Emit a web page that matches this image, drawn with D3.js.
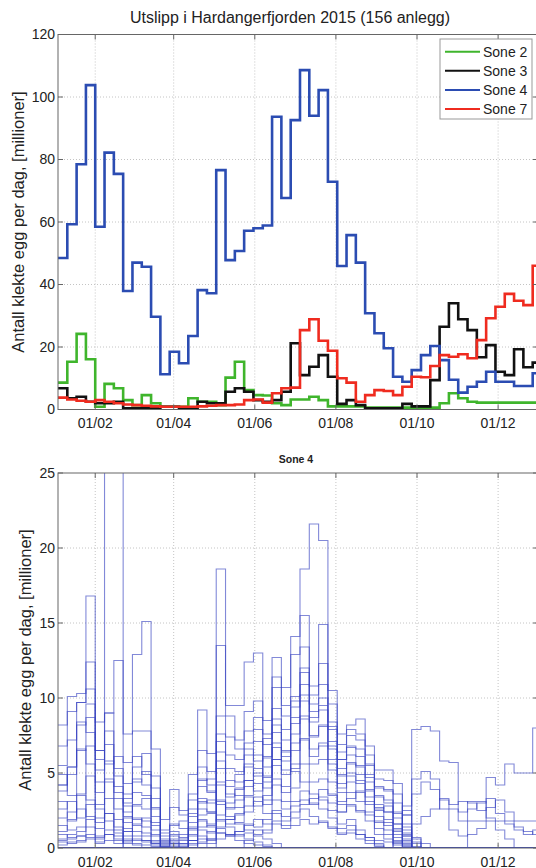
<!DOCTYPE html>
<html lang="no">
<head>
<meta charset="utf-8">
<title>Utslipp i Hardangerfjorden 2015</title>
<script src="https://cdn.jsdelivr.net/npm/d3@7"></script>
<style>
  html, body { margin: 0; padding: 0; background: #fff; }
  svg { display: block; }
  text { font-family: "Liberation Sans", Arial, Helvetica, sans-serif; fill: #222; }
</style>
</head>
<body>
<svg id="chart" width="536" height="868"></svg>
<script>
// Weekly emission, million hatched eggs per day. Week 0 starts Sunday 4 January 2015.
const sone2 = [8.6, 15.3, 24.2, 16.1, 0.9, 8.2, 6.8, 3.0, 1.4, 4.6,
               2.0, 0.9, 0.9, 0.9, 3.6, 2.5, 2.5, 1.4, 10.2, 15.3,
               6.2, 4.6, 4.5, 2.0, 1.4, 3.2, 3.2, 4.1, 3.0, 1.0,
               1.0, 1.0, 1.0, 0.6, 0.6, 0.6, 0.6, 0.6, 0.6, 0.6,
               0.6, 2.0, 5.2, 3.6, 2.5, 2.2, 2.2, 2.2, 2.2, 2.2, 2.2, 2.2];
const sone3 = [6.8, 3.6, 4.1, 2.5, 2.0, 2.0, 2.5, 0.4, 0.4, 0.4,
               0.4, 0.9, 0.9, 0.4, 0.4, 2.5, 2.0, 2.0, 5.7, 6.8,
               5.7, 3.0, 2.5, 3.0, 5.7, 21.2, 11.0, 13.7, 17.4, 10.5,
               1.8, 3.0, 1.4, 0.4, 0.4, 0.4, 0.4, 1.8, 1.0, 1.0,
               9.4, 26.5, 34.0, 28.9, 25.4, 16.7, 20.6, 12.1, 11.0, 19.3, 13.5, 15.0];
const sone4 = [48.5, 59.3, 78.5, 103.8, 58.5, 82.2, 75.4, 37.9, 47.0, 45.7,
               29.7, 11.3, 18.5, 14.8, 23.5, 38.2, 37.2, 76.6, 47.8, 50.7,
               57.2, 58.0, 58.9, 93.7, 67.7, 92.6, 108.6, 94.0, 102.2, 72.9,
               45.9, 55.8, 47.0, 30.8, 24.4, 19.6, 10.5, 8.9, 12.6, 17.4,
               20.3, 15.8, 9.5, 5.4, 7.3, 8.9, 12.1, 8.9, 8.9, 7.5, 7.5, 11.6];
const sone7 = [3.8, 3.2, 2.8, 2.5, 3.0, 2.5, 2.0, 1.6, 1.4, 1.2,
               1.0, 0.9, 0.9, 0.9, 0.9, 1.0, 1.2, 1.4, 1.4, 1.6,
               3.0, 3.2, 2.2, 5.2, 6.8, 7.0, 25.4, 28.9, 22.0, 18.8,
               10.0, 8.6, 2.5, 4.6, 6.2, 5.9, 4.6, 7.3, 10.5, 10.3,
               13.9, 17.4, 16.9, 17.7, 16.4, 22.2, 29.2, 32.9, 37.0, 34.8, 33.4, 46.0];

const zoneNames  = ["Sone 2", "Sone 3", "Sone 4", "Sone 7"];
const zoneColors = ["#3fb52c", "#111111", "#2b4cb2", "#ef2b1f"];
const monthTicks = ["01/02", "01/04", "01/06", "01/08", "01/10", "01/12"];
const topYTicks    = [0, 20, 40, 60, 80, 100, 120];
const bottomYTicks = [0, 5, 10, 15, 20, 25];

// Individual farms in Sone 4, same weekly steps
const anlegg01 = [4.2, 5.4, 9.7, 16.8, 6.5, 30, 30, 2.1, 1.5, 0.8, 0.5, 0, 0,
                  0, 0, 0, 0, 0, 0, 0, 0, 0, 0, 0, 0, 0,
                  0, 0, 0, 0, 0, 0, 0, 0, 0, 0, 0, 0, 0,
                  0, 0, 0, 0, 0, 0, 0, 0, 0, 0, 0, 0, 0];
const anlegg02 = [8.2, 10.1, 10.3, 12.4, 8.4, 9.0, 12.5, 7.6, 12.9, 15.1, 6.6, 1.2, 3.9,
                  2.5, 4.9, 9.2, 6.3, 18.6, 9.5, 9.5, 12.4, 13.0, 8.5, 12.7, 10.7, 14.1,
                  18.6, 21.6, 20.5, 10.5, 7.6, 8.2, 8.6, 6.8, 5.2, 5.2, 4.3, 2.5, 0,
                  0, 0, 0, 0, 0, 0, 0, 0, 0, 0, 0, 0, 0];
const anlegg03 = [6.8, 9.1, 9.7, 10.6, 6.5, 5.6, 6.1, 5.7, 7.8, 7.8, 4.8, 0.8, 1.5,
                  1.8, 3.2, 6.5, 5.1, 13.5, 8.8, 7.2, 9.1, 9.8, 7.6, 11.4, 9.5, 12.9,
                  15.5, 10.8, 14.9, 8.4, 6.4, 7.5, 7.2, 5.6, 4.1, 3.8, 2.4, 1.2, 0,
                  0, 0, 0, 0, 0, 0, 0, 0, 0, 0, 0, 0, 0];
const anlegg04 = [4.9, 3.5, 8.2, 9.6, 5.2, 9.0, 4.8, 4.3, 6.1, 4.9, 3.3, 0.5, 1.1,
                  0.9, 2.6, 5.4, 4.2, 8.8, 7.4, 6.6, 7.8, 8.7, 6.9, 10.7, 8.8, 10.1,
                  13.4, 9.6, 12.3, 7.9, 5.9, 6.8, 6.1, 4.9, 3.5, 3.0, 1.6, 0.8, 0,
                  0, 0, 0, 0, 0, 0, 0, 0, 0, 0, 0, 0, 0];
const anlegg05 = [4.2, 5.4, 6.5, 8.7, 3.7, 6.9, 4.1, 3.6, 5.4, 6.3, 2.6, 0.4, 0.8,
                  0.6, 2.1, 4.1, 3.7, 7.6, 6.2, 5.9, 7.0, 7.9, 6.1, 9.3, 7.9, 9.4,
                  12.0, 9.1, 10.0, 7.1, 5.3, 6.2, 5.4, 4.4, 2.9, 2.4, 1.1, 0.5, 0,
                  0, 0, 0, 0, 0, 0, 0, 0, 0, 0, 0, 0, 0];
const anlegg06 = [3.1, 1.8, 3.6, 6.8, 2.9, 5.8, 3.3, 3.0, 4.6, 4.2, 2.1, 0.3, 0.6,
                  0.5, 1.7, 3.3, 3.0, 6.4, 5.3, 5.1, 6.2, 7.1, 5.4, 8.6, 7.2, 8.7,
                  10.9, 8.4, 9.2, 6.6, 4.8, 5.6, 4.9, 3.9, 2.5, 1.9, 0.9, 0.4, 0,
                  0, 0, 0, 0, 0, 0, 0, 0, 0, 0, 0, 0, 0];
const anlegg07 = [2.6, 3.1, 2.0, 4.8, 2.0, 4.6, 2.6, 2.4, 3.7, 3.5, 1.7, 0.2, 0.5,
                  0.3, 1.3, 2.6, 2.4, 5.3, 4.5, 4.4, 5.4, 6.2, 4.8, 7.7, 6.5, 7.6,
                  9.8, 7.5, 8.1, 5.9, 4.3, 5.0, 4.3, 3.4, 2.1, 1.5, 0.7, 0.3, 0,
                  0, 0, 0, 0, 0, 0, 0, 0, 0, 0, 0, 0, 0];
const anlegg08 = [1.5, 1.2, 1.4, 2.9, 1.3, 3.3, 1.9, 1.7, 2.8, 2.6, 1.2, 0.1, 0.3,
                  0.2, 0.9, 1.8, 1.6, 4.2, 3.6, 3.5, 4.5, 5.3, 4.0, 6.7, 5.8, 6.5,
                  8.6, 6.6, 7.0, 5.2, 3.7, 4.4, 3.7, 2.9, 1.7, 1.2, 0.5, 0.2, 0,
                  0, 0, 0, 0, 0, 0, 0, 0, 0, 0, 0, 0, 0];
const anlegg09 = [0.9, 0.7, 0.8, 1.9, 0.8, 2.3, 1.2, 1.1, 2.0, 1.8, 0.8, 0.1, 0.2,
                  0.1, 0.5, 1.2, 1.0, 3.1, 2.6, 2.7, 3.5, 4.3, 3.2, 5.5, 4.9, 5.3,
                  7.2, 5.6, 5.9, 4.4, 3.1, 3.7, 3.1, 2.4, 1.3, 0.9, 0.4, 0.1, 0,
                  0, 0, 0, 0, 0, 0, 0, 0, 0, 0, 0, 0, 0];
const anlegg10 = [0.4, 0.3, 0.4, 0.9, 0.4, 1.2, 0.6, 0.5, 1.1, 1.0, 0.4, 0, 0.1,
                  0, 0.2, 0.6, 0.5, 1.9, 1.6, 1.7, 2.4, 3.1, 2.3, 4.2, 3.7, 4.0,
                  5.6, 4.4, 4.6, 3.5, 2.4, 2.9, 2.4, 1.8, 0.9, 0.6, 0.2, 0, 0,
                  0, 0, 0, 0, 0, 0, 0, 0, 0, 0, 0, 0, 0];
const anlegg11 = [0, 0, 0, 0, 0, 0, 0, 0, 0, 0, 0, 0, 0,
                  0, 1.2, 4.5, 4.6, 7.1, 4.1, 4.9, 6.6, 5.8, 7.3, 8.2, 6.1, 9.8,
                  11.7, 10.2, 10.9, 9.6, 6.9, 7.9, 7.6, 6.2, 4.6, 4.5, 3.6, 2.2, 0.6,
                  0, 0, 0, 0, 0, 0, 0, 0, 0, 0, 0, 0, 0];
const anlegg12 = [0, 0, 0, 0, 0, 0, 0, 0, 0, 0, 0, 0, 0,
                  0, 0.8, 3.0, 3.2, 5.8, 3.4, 4.0, 5.6, 4.8, 6.0, 7.0, 5.2, 8.3,
                  10.2, 8.7, 9.5, 8.1, 5.9, 6.7, 6.6, 5.5, 4.0, 3.9, 3.0, 1.6, 0.4,
                  0, 0, 0, 0, 0, 0, 0, 0, 0, 0, 0, 0, 0];
const anlegg13 = [0, 0, 0, 0, 0, 0, 0, 0, 0, 0, 0, 0, 0,
                  0, 0.5, 2.2, 2.3, 4.4, 2.7, 3.2, 4.5, 3.8, 4.7, 5.9, 4.1, 7.0,
                  8.8, 7.4, 8.2, 6.8, 4.9, 5.7, 5.5, 4.7, 3.4, 3.2, 2.3, 1.0, 0,
                  0, 0, 0, 0, 0, 0, 0, 0, 0, 0, 0, 0, 0];
const anlegg14 = [0, 0, 0, 0, 0, 0, 0, 0, 0, 0, 0, 0, 0,
                  0, 0.3, 1.4, 1.5, 3.2, 1.9, 2.3, 3.4, 2.8, 3.5, 4.6, 3.1, 5.6,
                  7.3, 6.1, 6.8, 5.6, 4.0, 4.8, 4.5, 3.8, 2.7, 2.4, 1.6, 0.6, 0,
                  0, 0, 0, 0, 0, 0, 0, 0, 0, 0, 0, 0, 0];
const anlegg15 = [5.5, 7.2, 8.4, 7.7, 5.9, 7.8, 5.3, 2.8, 1.9, 1.4, 0.9, 0.6, 0.3,
                  0, 0, 0, 0, 0, 0, 0, 0, 0, 0, 0, 0, 0,
                  0, 0, 0, 0, 0, 0, 0, 0, 0, 0, 0, 0, 0,
                  0, 0, 0, 0, 0, 0, 0, 0, 0, 0, 0, 0, 0];
const anlegg16 = [3.8, 4.9, 6.6, 5.6, 4.4, 4.4, 3.7, 1.3, 0.8, 0.5, 0.3, 0, 0,
                  0, 0, 0, 0, 0, 0, 0, 0, 0, 0, 0, 0, 0,
                  0, 0, 0, 0, 0, 0, 0, 0, 0, 0, 0, 0, 0,
                  0, 0, 0, 0, 0, 0, 0, 0, 0, 0, 0, 0, 0];
const anlegg17 = [0, 0, 0, 0, 0, 0, 0, 0, 0, 0, 0, 0, 0,
                  0, 0, 0, 0, 0, 0, 0, 0, 0, 0, 0, 0, 0,
                  0, 0, 0, 0, 0, 0, 0, 0, 0, 0, 0, 0, 7.9,
                  8.1, 7.8, 5.8, 5.7, 2.4, 3.1, 3.1, 2.0, 1.2, 0.6, 0, 0, 0];
const anlegg18 = [0, 0, 0, 0, 0, 0, 0, 0, 0, 0, 0, 0, 0,
                  0, 0, 0, 0, 0, 0, 0, 0, 0, 0, 0, 0, 0,
                  0, 0, 0, 0, 0, 0, 0, 0, 0, 0, 1.2, 2.8, 4.6,
                  5.1, 4.6, 3.2, 2.6, 1.8, 1.8, 1.8, 1.8, 1.8, 1.8, 1.8, 1.8, 1.8];
const anlegg19 = [0, 0, 0, 0, 0, 0, 0, 0, 0, 0, 0, 0, 0,
                  0, 0, 0, 0, 0, 0, 0, 0, 0, 0, 0, 0, 0,
                  0, 0, 0, 0, 0, 0, 0, 0, 0, 0, 0, 0, 0,
                  0, 0, 0, 0, 0, 0.9, 1.3, 4.7, 4.2, 5.6, 5.0, 5.0, 8.0];
const anlegg20 = [0, 0, 0, 0, 0, 0, 0, 0, 0, 0, 0, 0, 0,
                  0, 0, 0, 0, 0, 0, 0, 0, 0, 0, 0, 0, 0,
                  0, 0, 0, 0, 0, 0, 0, 0, 0, 0, 0, 2.2, 3.6,
                  4.4, 3.9, 2.6, 1.2, 0.8, 2.6, 3.0, 3.3, 2.3, 1.6, 1.2, 0.9, 1.2];
const anlegg21 = [2.0, 2.4, 3.5, 3.2, 2.6, 1.8, 1.0, 0.6, 0.3, 0, 0, 0, 0,
                  0, 0, 0.4, 1.1, 2.2, 3.0, 3.9, 4.1, 5.0, 4.4, 5.9, 6.4, 5.1,
                  4.4, 3.6, 3.2, 2.5, 1.6, 1.9, 1.2, 0.7, 0.3, 0, 0, 0, 0,
                  0, 0, 0, 0, 0, 0, 0, 0, 0, 0, 0, 0, 0];
const anlegg22 = [1.1, 1.9, 2.6, 2.1, 1.7, 2.3, 1.4, 0.8, 0.5, 0.4, 0.2, 0, 0,
                  0, 0, 0, 0.3, 1.4, 1.9, 2.2, 2.8, 3.4, 2.9, 3.2, 2.6, 3.1,
                  3.8, 3.0, 2.6, 2.0, 1.3, 1.5, 0.9, 0.5, 0.2, 0, 0, 0, 0,
                  0, 0, 0, 0, 0, 0, 0, 0, 0, 0, 0, 0, 0];
const anlegg23 = [0.6, 0.9, 1.1, 1.4, 0.7, 0.9, 0.5, 0.3, 0.2, 0.2, 0.1, 0, 0,
                  0, 0, 0, 0, 0.6, 0.9, 1.1, 1.5, 1.9, 1.6, 2.3, 1.8, 2.0,
                  2.6, 2.1, 1.7, 1.4, 0.9, 1.0, 0.6, 0.3, 0.1, 0, 0, 0, 0,
                  0, 0, 0, 0, 0, 0, 0, 0, 0, 0, 0, 0, 0];
const anlegg24 = [0, 0, 0, 0, 0, 0, 0, 3.3, 4.4, 5.1, 4.0, 1.9, 2.7,
                  2.2, 3.6, 4.6, 3.8, 2.9, 2.1, 1.6, 1.2, 0.8, 0.6, 0.3, 0, 0,
                  0, 0, 0, 0, 0, 0, 0, 0, 0, 0, 0, 0, 0,
                  0, 0, 0, 0, 0, 0, 0, 0, 0, 0, 0, 0, 0];
const anlegg25 = [0, 0, 0, 0, 0, 0, 0, 2.0, 2.9, 3.3, 2.7, 1.0, 1.6,
                  1.3, 2.3, 3.1, 2.4, 1.8, 1.4, 0.9, 0.6, 0.4, 0.2, 0, 0, 0,
                  0, 0, 0, 0, 0, 0, 0, 0, 0, 0, 0, 0, 0,
                  0, 0, 0, 0, 0, 0, 0, 0, 0, 0, 0, 0, 0];
const anlegg26 = [0.2, 0.4, 0.5, 0.6, 0.3, 0.5, 0.3, 1.1, 1.6, 2.0, 1.5, 0.4, 0.9,
                  0.7, 1.4, 1.9, 1.4, 1.0, 0.8, 0.5, 0.3, 0.2, 0.1, 0, 0, 0,
                  0, 0, 0, 0, 0, 0, 0, 0, 0, 0, 0, 0, 0,
                  0, 0, 0, 0, 0, 0, 0, 0, 0, 0, 0, 0, 0];
const anlegg27 = [0, 0, 0, 0, 0, 0, 0, 0, 0, 0, 0, 0, 0,
                  0, 0, 0.3, 0.6, 1.0, 0.8, 1.1, 1.6, 1.4, 1.9, 2.5, 2.1, 2.8,
                  3.2, 2.9, 3.4, 3.0, 2.4, 2.8, 2.5, 2.2, 1.8, 1.7, 1.3, 0.8, 0.3,
                  0, 0, 0, 0, 0, 0, 0, 0, 0, 0, 0, 0, 0];
const anlegg28 = [0, 0, 0, 0, 0, 0, 0, 0, 0, 0, 0, 0, 0,
                  0, 0, 0, 0, 0, 0, 0, 0.5, 0.9, 1.2, 1.8, 1.5, 2.4,
                  2.9, 3.3, 3.9, 3.6, 2.9, 3.3, 3.8, 3.1, 2.6, 2.8, 2.0, 1.4, 0.7,
                  0.3, 0, 0, 0, 0, 0, 0, 0, 0, 0, 0, 0, 0];
const anlegg29 = [0.5, 0.6, 0.8, 0.7, 0.6, 0.9, 0.8, 0.4, 0.6, 0.5, 0.3, 0.2, 0.4,
                  0.3, 0.5, 0.8, 0.6, 1.3, 0.9, 0.8, 1.0, 1.2, 1.0, 1.6, 1.3, 1.5,
                  1.9, 1.6, 1.8, 1.3, 1.0, 1.2, 0.9, 0.7, 0.5, 0.4, 0.3, 0.2, 0.1,
                  0, 0, 0, 0, 0, 0, 0, 0, 0, 0, 0, 0, 0];
const anlegg30 = [0, 0, 0, 0, 0, 0, 0, 0, 0, 0, 0, 0, 0,
                  0, 0, 0, 0, 0, 0, 0, 0, 0, 0, 0, 0, 0,
                  0, 0, 0, 0, 0, 0, 0, 0, 0, 0, 0.4, 0.9, 1.6,
                  2.1, 2.6, 3.3, 2.9, 3.1, 3.0, 2.5, 2.7, 3.2, 2.4, 1.4, 1.1, 0.9];

const sone4Anlegg = [anlegg01, anlegg02, anlegg03, anlegg04, anlegg05, anlegg06, anlegg07,
                     anlegg08, anlegg09, anlegg10, anlegg11, anlegg12, anlegg13, anlegg14,
                     anlegg15, anlegg16, anlegg17, anlegg18, anlegg19, anlegg20,
                     anlegg21, anlegg22, anlegg23, anlegg24, anlegg25, anlegg26,
                     anlegg27, anlegg28, anlegg29, anlegg30];

const svg = d3.select("#chart");

const start = new Date(Date.UTC(2015, 0, 4));
const end   = new Date(Date.UTC(2015, 11, 31));
const weekDate = k => d3.utcWeek.offset(start, k);
const parseTick = d3.utcParse("%d/%m/%Y");
const tickDates = monthTicks.map(t => parseTick(t + "/2015"));

const left = 58, right = 538;
const x = d3.scaleUtc().domain([start, end]).range([left, right]);

// weekly values drawn as a staircase, last step runs to the end of its week
function stepPoints(values) {
  const pts = values.map((v, k) => [weekDate(k), v]);
  pts.push([weekDate(values.length), values[values.length - 1]]);
  return pts;
}

function panel(top, bottom, yMax, yTicks, id) {
  const y = d3.scaleLinear().domain([0, yMax]).range([bottom, top]);
  const g = svg.append("g");

  g.append("clipPath").attr("id", id)
    .append("rect").attr("x", left).attr("y", top)
    .attr("width", right - left).attr("height", bottom - top);

  // dotted grid
  g.selectAll(null).data(tickDates).join("line")
    .attr("x1", d => x(d)).attr("x2", d => x(d))
    .attr("y1", top).attr("y2", bottom)
    .attr("stroke", "#c4c4c4").attr("stroke-dasharray", "1,2");
  g.selectAll(null).data(yTicks.filter(v => v > 0 && v < yMax)).join("line")
    .attr("x1", left).attr("x2", right)
    .attr("y1", d => y(d)).attr("y2", d => y(d))
    .attr("stroke", "#c4c4c4").attr("stroke-dasharray", "1,2");

  const marks = g.append("g").attr("clip-path", `url(#${id})`);

  const frame = g.append("g");
  frame.append("rect").attr("x", left).attr("y", top)
    .attr("width", right - left).attr("height", bottom - top)
    .attr("fill", "none").attr("stroke", "#666").attr("stroke-width", 1);

  // ticks point inwards on all four sides
  const tk = 5;
  frame.selectAll(null).data(tickDates).join("path")
    .attr("d", d => `M${x(d)},${bottom}v${-tk}M${x(d)},${top}v${tk}`)
    .attr("stroke", "#666");
  frame.selectAll(null).data(yTicks).join("path")
    .attr("d", d => `M${left},${y(d)}h${tk}M${right},${y(d)}h${-tk}`)
    .attr("stroke", "#666");

  frame.selectAll(null).data(yTicks).join("text")
    .attr("x", left - 3).attr("y", d => y(d)).attr("dy", "0.35em")
    .attr("text-anchor", "end").attr("font-size", 14)
    .text(d => d);
  frame.selectAll(null).data(tickDates).join("text")
    .attr("x", d => x(d)).attr("y", bottom + 18.5)
    .attr("text-anchor", "middle").attr("font-size", 14)
    .text(d => d3.utcFormat("%d/%m")(d));

  return { y, marks };
}

// ---- top: all zones ----
const topP = panel(34.5, 409.5, 120, topYTicks, "clipTop");
const zoneSeries = [sone2, sone3, sone4, sone7];
const lineTop = d3.line().curve(d3.curveStepAfter)
  .x(d => x(d[0])).y(d => topP.y(d[1]));
topP.marks.selectAll(null).data(zoneSeries).join("path")
  .attr("d", s => lineTop(stepPoints(s)))
  .attr("fill", "none")
  .attr("stroke", (s, i) => zoneColors[i])
  .attr("stroke-width", 2.6)
  .attr("stroke-linejoin", "miter");

svg.append("text")
  .attr("x", 290).attr("y", 22.5).attr("text-anchor", "middle")
  .attr("font-size", 16).text("Utslipp i Hardangerfjorden 2015 (156 anlegg)");

svg.append("text")
  .attr("transform", "translate(18.5,222) rotate(-90)")
  .attr("dy", "0.35em").attr("text-anchor", "middle").attr("font-size", 16.5)
  .text("Antall klekte egg per dag, [millioner]");

// legend
const lg = svg.append("g");
lg.append("rect").attr("x", 440).attr("y", 39).attr("width", 92).attr("height", 80)
  .attr("fill", "#fff").attr("stroke", "#999").attr("stroke-width", 1);
const lgRows = lg.selectAll(null).data(zoneNames).join("g")
  .attr("transform", (d, i) => `translate(0,${51.7 + i * 19.1})`);
lgRows.append("line").attr("x1", 445).attr("x2", 480)
  .attr("stroke", (d, i) => zoneColors[i]).attr("stroke-width", 2);
lgRows.append("text").attr("x", 483).attr("dy", "0.35em")
  .attr("font-size", 14).text(d => d);

// ---- bottom: individual farms in Sone 4 ----
const botP = panel(473, 848, 25, bottomYTicks, "clipBot");
const lineBot = d3.line().curve(d3.curveStepAfter)
  .x(d => x(d[0])).y(d => botP.y(d[1]));
botP.marks.selectAll(null).data(sone4Anlegg).join("path")
  .attr("d", s => lineBot(stepPoints(s)))
  .attr("fill", "none")
  .attr("stroke", "#3540c0")
  .attr("stroke-opacity", 0.62)
  .attr("stroke-width", 1.1);

svg.append("text")
  .attr("x", 296).attr("y", 463).attr("text-anchor", "middle")
  .attr("font-size", 10.5).attr("font-weight", "bold").text("Sone 4");

svg.append("text")
  .attr("transform", "translate(25,660) rotate(-90)")
  .attr("dy", "0.35em").attr("text-anchor", "middle").attr("font-size", 16.5)
  .text("Antall klekte egg per dag, [millioner]");
</script>
</body>
</html>
